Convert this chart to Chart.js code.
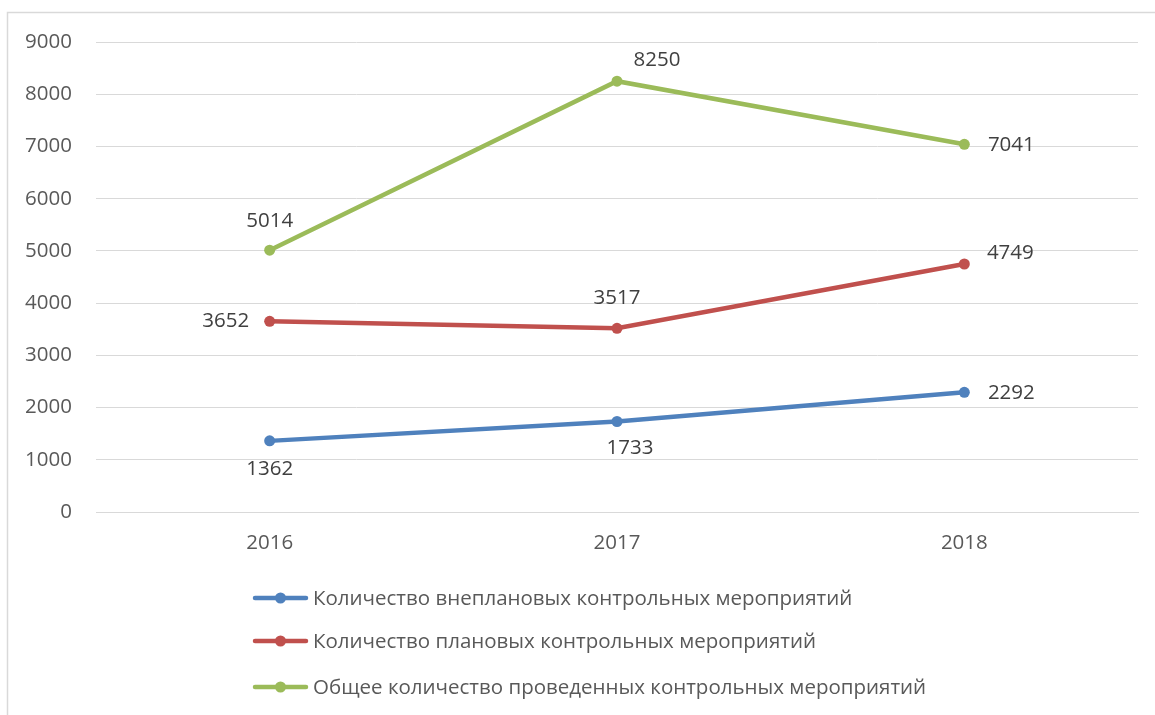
<!DOCTYPE html>
<html>
<head>
<meta charset="utf-8">
<script src="https://cdn.jsdelivr.net/npm/chart.js@4.4.0/dist/chart.umd.min.js"></script>
<style>
  html, body { margin: 0; padding: 0; background: #fff; }
  #wrap { width: 1155px; height: 715px; position: relative; }
</style>
</head>
<body>
<div id="wrap"><canvas id="line-chart"></canvas></div>
<script>
const years = ['2016', '2017', '2018'];
const unplanned = [1362, 1733, 2292];
const planned = [3652, 3517, 4749];
const total = [5014, 8250, 7041];
const seriesNames = [
  'Количество внеплановых контрольных мероприятий',
  'Количество плановых контрольных мероприятий',
  'Общее количество проведенных контрольных мероприятий'
];
const yTicks = [0, 1000, 2000, 3000, 4000, 5000, 6000, 7000, 8000, 9000];

const FONT = '"Open Sans", "Noto Sans", sans-serif';
const FSIZE = 20.5;

// data labels next to each point
const pointLabels = {
  id: 'pointLabels',
  afterDatasetsDraw(chart) {
    const ctx = chart.ctx;
    ctx.save();
    ctx.font = FSIZE + 'px ' + FONT;
    ctx.fillStyle = '#404040';
    ctx.textAlign = 'center';
    ctx.textBaseline = 'middle';
    chart.data.datasets.forEach((ds, i) => {
      chart.getDatasetMeta(i).data.forEach((pt, j) => {
        const off = ds.labelOffsets[j];
        ctx.fillText(String(ds.data[j]), pt.x + off[0], pt.y + off[1]);
      });
    });
    ctx.restore();
  }
};

// outer frame and vertical legend at the bottom
const frameAndLegend = {
  id: 'frameAndLegend',
  beforeDraw(chart) {
    const ctx = chart.ctx;
    ctx.save();
    ctx.strokeStyle = '#d9d9d9';
    ctx.lineWidth = 1.5;
    ctx.beginPath();
    ctx.moveTo(7.5, 715);
    ctx.lineTo(7.5, 12.5);
    ctx.lineTo(1155, 12.5);
    ctx.stroke();
    ctx.restore();
  },
  afterDraw(chart) {
    const ctx = chart.ctx;
    const rows = [598, 641, 687];
    ctx.save();
    ctx.font = FSIZE + 'px ' + FONT;
    ctx.textBaseline = 'middle';
    chart.data.datasets.forEach((ds, i) => {
      const y = rows[i];
      ctx.strokeStyle = ds.borderColor;
      ctx.lineWidth = 4.5;
      ctx.lineCap = 'round';
      ctx.beginPath();
      ctx.moveTo(255, y);
      ctx.lineTo(306, y);
      ctx.stroke();
      ctx.fillStyle = ds.borderColor;
      ctx.beginPath();
      ctx.arc(280.5, y, 5.5, 0, Math.PI * 2);
      ctx.fill();
      ctx.fillStyle = '#595959';
      ctx.fillText(ds.label, 313, y + 1);
    });
    ctx.restore();
  }
};

function makeSet(label, data, color, offsets) {
  return {
    label: label,
    data: data,
    borderColor: color,
    backgroundColor: color,
    borderWidth: 4.5,
    pointRadius: 5.5,
    pointHoverRadius: 5.5,
    pointBorderWidth: 0,
    tension: 0,
    labelOffsets: offsets
  };
}

new Chart(document.getElementById('line-chart'), {
  type: 'line',
  data: {
    labels: years,
    datasets: [
      makeSet(seriesNames[0], unplanned, '#4f81bd', [[0, 28], [13, 27], [47, 1]]),
      makeSet(seriesNames[1], planned, '#c0504d', [[-44, 0], [0, -30], [46, -11]]),
      makeSet(seriesNames[2], total, '#9bbb59', [[0, -29], [40, -21], [47, 1]])
    ]
  },
  options: {
    responsive: true,
    maintainAspectRatio: false,
    animation: false,
    layout: { padding: { top: 42, right: 17, left: 0, bottom: 0 } },
    plugins: {
      legend: { display: false },
      tooltip: { enabled: false }
    },
    scales: {
      x: {
        offset: true,
        afterFit: s => { s.height = 203; },
        grid: { display: false, drawTicks: false },
        border: { display: true, color: '#d9d9d9', width: 1 },
        ticks: { padding: 19, color: '#595959', font: { family: FONT, size: FSIZE } }
      },
      y: {
        min: 0,
        max: 9000,
        afterFit: s => { s.width = 96; },
        afterBuildTicks: s => { s.ticks = yTicks.map(v => ({ value: v })); },
        grid: { color: '#d9d9d9', lineWidth: 1, drawTicks: false },
        border: { display: false },
        ticks: {
          padding: 24,
          color: '#595959',
          font: { family: FONT, size: FSIZE },
          callback: v => String(v)
        }
      }
    }
  },
  plugins: [pointLabels, frameAndLegend]
});
</script>
</body>
</html>
